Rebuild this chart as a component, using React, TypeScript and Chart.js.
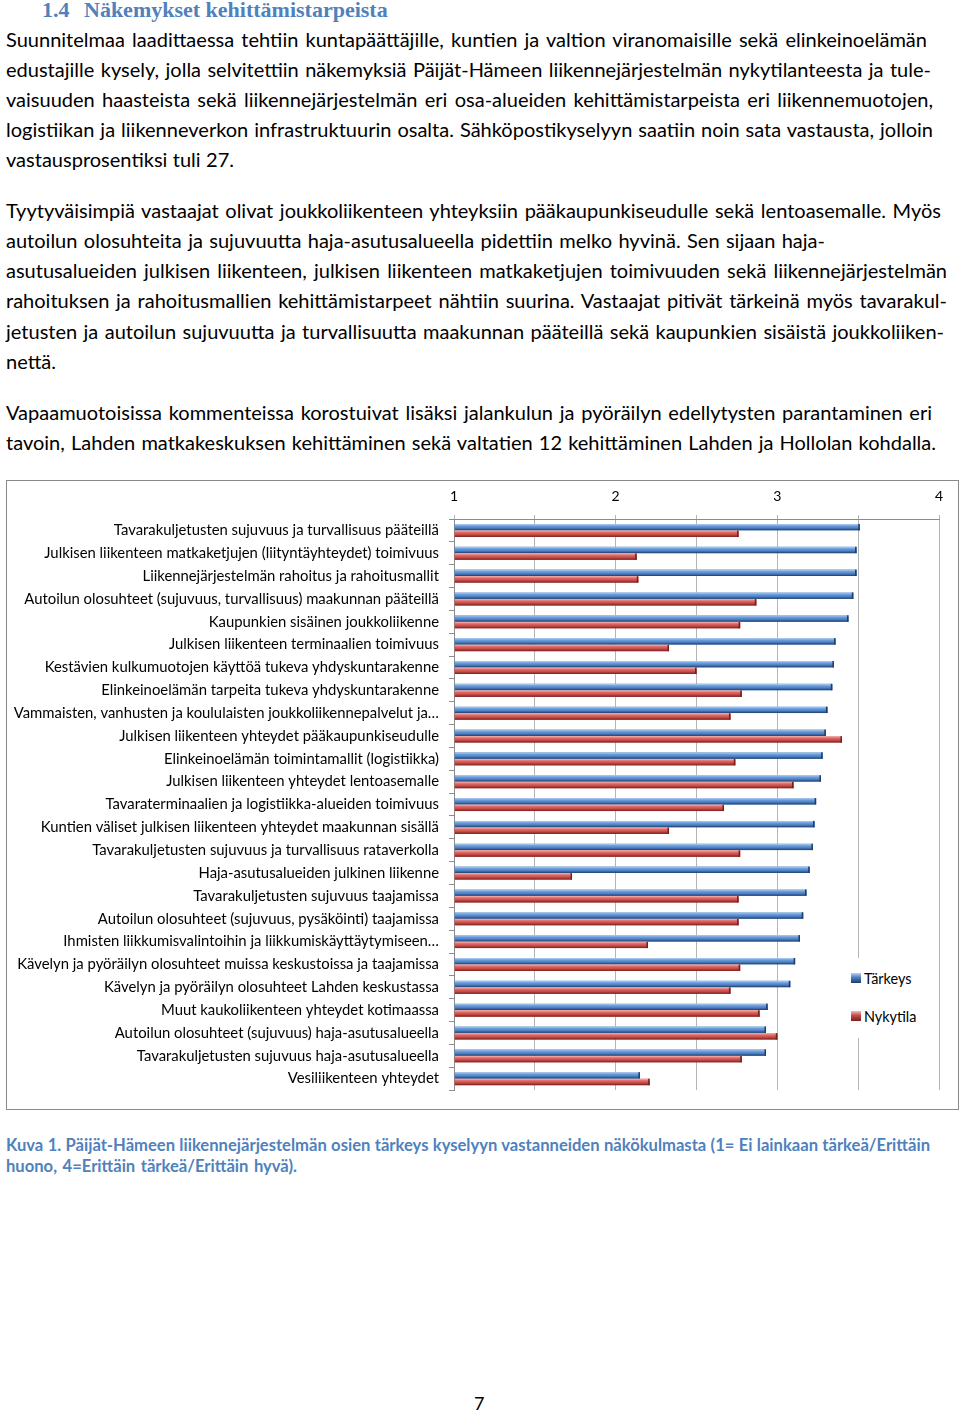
import React, { useEffect, useLayoutEffect, useRef } from "react";
import { Chart, registerables } from "chart.js";

Chart.register(...registerables);

const categories = [
  "Tavarakuljetusten sujuvuus ja turvallisuus pääteillä",
  "Julkisen liikenteen matkaketjujen (liityntäyhteydet) toimivuus",
  "Liikennejärjestelmän rahoitus ja rahoitusmallit",
  "Autoilun olosuhteet (sujuvuus, turvallisuus) maakunnan pääteillä",
  "Kaupunkien sisäinen joukkoliikenne",
  "Julkisen liikenteen terminaalien toimivuus",
  "Kestävien kulkumuotojen käyttöä tukeva yhdyskuntarakenne",
  "Elinkeinoelämän tarpeita tukeva yhdyskuntarakenne",
  "Vammaisten, vanhusten ja koululaisten joukkoliikennepalvelut ja…",
  "Julkisen liikenteen yhteydet pääkaupunkiseudulle",
  "Elinkeinoelämän toimintamallit (logistiikka)",
  "Julkisen liikenteen yhteydet lentoasemalle",
  "Tavaraterminaalien ja logistiikka-alueiden toimivuus",
  "Kuntien väliset julkisen liikenteen yhteydet maakunnan sisällä",
  "Tavarakuljetusten sujuvuus ja turvallisuus rataverkolla",
  "Haja-asutusalueiden julkinen liikenne",
  "Tavarakuljetusten sujuvuus taajamissa",
  "Autoilun olosuhteet (sujuvuus, pysäköinti) taajamissa",
  "Ihmisten liikkumisvalintoihin ja liikkumiskäyttäytymiseen…",
  "Kävelyn ja pyöräilyn olosuhteet muissa keskustoissa ja taajamissa",
  "Kävelyn ja pyöräilyn olosuhteet Lahden keskustassa",
  "Muut kaukoliikenteen yhteydet kotimaassa",
  "Autoilun olosuhteet (sujuvuus) haja-asutusalueella",
  "Tavarakuljetusten sujuvuus haja-asutusalueella",
  "Vesiliikenteen yhteydet",
];

const tarkeys = [
  3.51, 3.49, 3.49, 3.47, 3.44, 3.36, 3.35, 3.34, 3.31, 3.3, 3.28, 3.27, 3.24,
  3.23, 3.22, 3.2, 3.18, 3.16, 3.14, 3.11, 3.08, 2.94, 2.93, 2.93, 2.15,
];

const nykytila = [
  2.76, 2.13, 2.14, 2.87, 2.77, 2.33, 2.5, 2.78, 2.71, 3.4, 2.74, 3.1, 2.67,
  2.33, 2.77, 1.73, 2.76, 2.76, 2.2, 2.77, 2.71, 2.89, 3.0, 2.78, 2.21,
];

const seriesNames = ["Tärkeys", "Nykytila"];
const axisMin = 1;
const axisMax = 4;
const axisStep = 0.5;

type TextLine = { text: string; y: number; right?: number };

const paragraphLines: TextLine[] = [
  { text: "Suunnitelmaa laadittaessa tehtiin kuntapäättäjille, kuntien ja valtion viranomaisille sekä elinkeinoelämän", y: 39, right: 927 },
  { text: "edustajille kysely, jolla selvitettiin näkemyksiä Päijät-Hämeen liikennejärjestelmän nykytilanteesta ja tule-", y: 69, right: 931 },
  { text: "vaisuuden haasteista sekä liikennejärjestelmän eri osa-alueiden kehittämistarpeista eri liikennemuotojen,", y: 99, right: 933 },
  { text: "logistiikan ja liikenneverkon infrastruktuurin osalta. Sähköpostikyselyyn saatiin noin sata vastausta, jolloin", y: 129, right: 933 },
  { text: "vastausprosentiksi tuli 27.", y: 159, right: 234 },
  { text: "Tyytyväisimpiä vastaajat olivat joukkoliikenteen yhteyksiin pääkaupunkiseudulle sekä lentoasemalle. Myös", y: 210, right: 941 },
  { text: "autoilun olosuhteita ja sujuvuutta haja-asutusalueella pidettiin melko hyvinä. Sen sijaan haja-", y: 240, right: 825 },
  { text: "asutusalueiden julkisen liikenteen, julkisen liikenteen matkaketjujen toimivuuden sekä liikennejärjestelmän", y: 270, right: 947 },
  { text: "rahoituksen ja rahoitusmallien kehittämistarpeet nähtiin suurina. Vastaajat pitivät tärkeinä myös tavarakul-", y: 300, right: 947 },
  { text: "jetusten ja autoilun sujuvuutta ja turvallisuutta maakunnan pääteillä sekä kaupunkien sisäistä joukkoliiken-", y: 331, right: 944 },
  { text: "nettä.", y: 361 },
  { text: "Vapaamuotoisissa kommenteissa korostuivat lisäksi jalankulun ja pyöräilyn edellytysten parantaminen eri", y: 412, right: 932 },
  { text: "tavoin, Lahden matkakeskuksen kehittäminen sekä valtatien 12 kehittäminen Lahden ja Hollolan kohdalla.", y: 442, right: 936 },
];

const captionLines: TextLine[] = [
  { text: "Kuva 1. Päijät-Hämeen liikennejärjestelmän osien tärkeys kyselyyn vastanneiden näkökulmasta (1= Ei lainkaan tärkeä/Erittäin", y: 1145, right: 930 },
  { text: "huono, 4=Erittäin tärkeä/Erittäin hyvä).", y: 1166, right: 297 },
];

const BLUE = "#4F81BD";
const TEXT_FONT = "Lato, 'Noto Sans', sans-serif";

function TextGroup({ lines, left, baseSize, color, weight, lh }: { lines: TextLine[]; left: number; baseSize: number; color: string; weight: number; lh: number }) {
  const box = useRef<HTMLDivElement | null>(null);
  useLayoutEffect(() => {
    const root = box.current;
    if (!root) return;
    const spans = Array.from(root.querySelectorAll("span")) as HTMLSpanElement[];
    spans.forEach((s) => {
      s.style.fontSize = `${baseSize}px`;
      s.style.wordSpacing = "0px";
    });
    const ratios: number[] = [];
    spans.forEach((s, i) => {
      const r = lines[i].right;
      if (r === undefined) return;
      const w = s.getBoundingClientRect().width;
      if (w > 0) ratios.push((r - left) / w);
    });
    ratios.sort((a, b) => a - b);
    const ratio = ratios.length ? ratios[Math.floor(ratios.length / 2)] * 0.985 : 1;
    const size = baseSize * ratio;
    spans.forEach((s, i) => {
      s.style.fontSize = `${size}px`;
      const r = lines[i].right;
      if (r === undefined) return;
      const w = s.getBoundingClientRect().width;
      const spaces = (lines[i].text.match(/ /g) || []).length;
      if (spaces > 0) s.style.wordSpacing = `${(r - left - w) / spaces}px`;
    });
  }, [lines, left, baseSize]);
  return (
    <div ref={box}>
      {lines.map((l, i) => (
        <span
          key={i}
          style={{
            position: "absolute",
            left,
            top: l.y - lh / 2,
            lineHeight: `${lh}px`,
            height: lh,
            whiteSpace: "nowrap",
            fontFamily: TEXT_FONT,
            fontSize: baseSize,
            fontWeight: weight,
            color,
          }}
        >
          {l.text}
        </span>
      ))}
    </div>
  );
}

const shadePlugin = {
  id: "shade3d",
  afterDatasetsDraw(chart: any) {
    const ctx: CanvasRenderingContext2D = chart.ctx;
    const area = chart.chartArea;
    const palettes = [
      ["#b9d3f1", "#6d9fdc", "#4a7fc3", "#1f3d6b"],
      ["#f6b8b6", "#e06a66", "#c24a47", "#7a1e1c"],
    ];
    chart.data.datasets.forEach((_ds: any, di: number) => {
      const meta = chart.getDatasetMeta(di);
      const pal = palettes[di];
      meta.data.forEach((el: any) => {
        const p = el.getProps(["x", "y", "base", "height"], true);
        const left = Math.max(area.left + 1, Math.min(p.x, p.base));
        const right = Math.min(area.right, Math.max(p.x, p.base));
        if (right <= left) return;
        const top = p.y - p.height / 2;
        const h = p.height;
        const g = ctx.createLinearGradient(0, top, 0, top + h);
        g.addColorStop(0, pal[0]);
        g.addColorStop(0.3, pal[1]);
        g.addColorStop(0.65, pal[2]);
        g.addColorStop(1, pal[3]);
        ctx.save();
        ctx.fillStyle = g;
        ctx.fillRect(left, top, right - left, h);
        ctx.fillStyle = pal[3];
        ctx.fillRect(right - 1.5, top, 1.5, h);
        ctx.restore();
      });
    });
  },
};

function BarChart() {
  const ref = useRef<HTMLCanvasElement | null>(null);
  useEffect(() => {
    if (!ref.current) return;
    const font = { family: TEXT_FONT, size: 14.85 };
    const chart = new Chart(ref.current, {
      type: "bar",
      data: {
        labels: categories,
        datasets: [
          {
            label: seriesNames[0],
            data: tarkeys,
            base: axisMin,
            backgroundColor: "#4F81BD",
            borderWidth: 0,
            categoryPercentage: 0.58,
            barPercentage: 0.96,
          },
          {
            label: seriesNames[1],
            data: nykytila,
            base: axisMin,
            backgroundColor: "#C0504D",
            borderWidth: 0,
            categoryPercentage: 0.58,
            barPercentage: 0.96,
          },
        ],
      },
      options: {
        indexAxis: "y",
        animation: false,
        responsive: false,
        maintainAspectRatio: false,
        layout: { padding: { left: 0, right: 19, top: 0, bottom: 11 } },
        plugins: { legend: { display: false }, tooltip: { enabled: false } },
        scales: {
          x: {
            type: "linear",
            position: "top",
            min: axisMin,
            max: axisMax,
            afterFit: (s: any) => {
              s.height = 38;
            },
            ticks: {
              stepSize: axisStep,
              autoSkip: false,
              maxRotation: 0,
              padding: 10,
              color: "#000",
              font: { family: TEXT_FONT, size: 14 },
              callback: (v: any) => (Number.isInteger(Number(v)) ? String(v) : ""),
            },
            grid: { color: "#b5b5b5", tickLength: 4 },
            border: { color: "#8c8c8c" },
          },
          y: {
            afterFit: (s: any) => {
              s.width = 447;
            },
            ticks: { color: "#000", font, padding: 10, autoSkip: false },
            grid: { offset: true, drawOnChartArea: false, tickLength: 5, color: "#8c8c8c" },
            border: { color: "#8c8c8c" },
          },
        },
      } as any,
      plugins: [shadePlugin],
    });
    return () => chart.destroy();
  }, []);
  return <canvas ref={ref} width={951} height={628} style={{ position: "absolute", left: 0, top: 0, width: 951, height: 628 }} />;
}

function LegendBox() {
  const item = (name: string, top: number, c: string[]) => (
    <div style={{ position: "absolute", left: 5, top, height: 20, display: "flex", alignItems: "center" }}>
      <div
        style={{
          width: 10,
          height: 10,
          background: `linear-gradient(${c[0]}, ${c[1]} 45%, ${c[2]})`,
          marginRight: 3,
        }}
      />
      <span style={{ fontFamily: TEXT_FONT, fontSize: 14.4, color: "#000" }}>{name}</span>
    </div>
  );
  return (
    <div style={{ position: "absolute", left: 846, top: 958, width: 78, height: 80, background: "#fff" }}>
      {item(seriesNames[0], 10, ["#b9d3f1", "#4a7fc3", "#1f3d6b"])}
      {item(seriesNames[1], 48, ["#f6b8b6", "#c24a47", "#7a1e1c"])}
    </div>
  );
}

export default function App() {
  const headStyle: React.CSSProperties = {
    position: "absolute",
    top: -3,
    lineHeight: "26px",
    fontFamily: "'Liberation Serif', 'DejaVu Serif', serif",
    fontWeight: 700,
    fontSize: 22,
    color: BLUE,
    whiteSpace: "nowrap",
  };
  return (
    <div
      style={{
        position: "absolute",
        left: 0,
        top: 0,
        width: 960,
        height: 1413,
        overflow: "hidden",
        background: "#fff",
      }}
    >
      <span style={{ ...headStyle, left: 42 }}>1.4</span>
      <span style={{ ...headStyle, left: 84 }}>Näkemykset kehittämistarpeista</span>
      <TextGroup lines={paragraphLines} left={6} baseSize={17.5} color="#000" weight={400} lh={24} />
      <div
        style={{
          position: "absolute",
          left: 6,
          top: 480,
          width: 951,
          height: 628,
          border: "1px solid #8a8a8a",
          background: "#fff",
        }}
      >
        <BarChart />
        <div style={{ position: "absolute", left: -7, top: -481 }}>
          <LegendBox />
        </div>
      </div>
      <TextGroup lines={captionLines} left={6} baseSize={15} color={BLUE} weight={700} lh={20} />
      <span
        style={{
          position: "absolute",
          left: 474,
          top: 1391,
          lineHeight: "24px",
          fontFamily: TEXT_FONT,
          fontSize: 18,
          color: "#000",
        }}
      >
        7
      </span>
    </div>
  );
}
